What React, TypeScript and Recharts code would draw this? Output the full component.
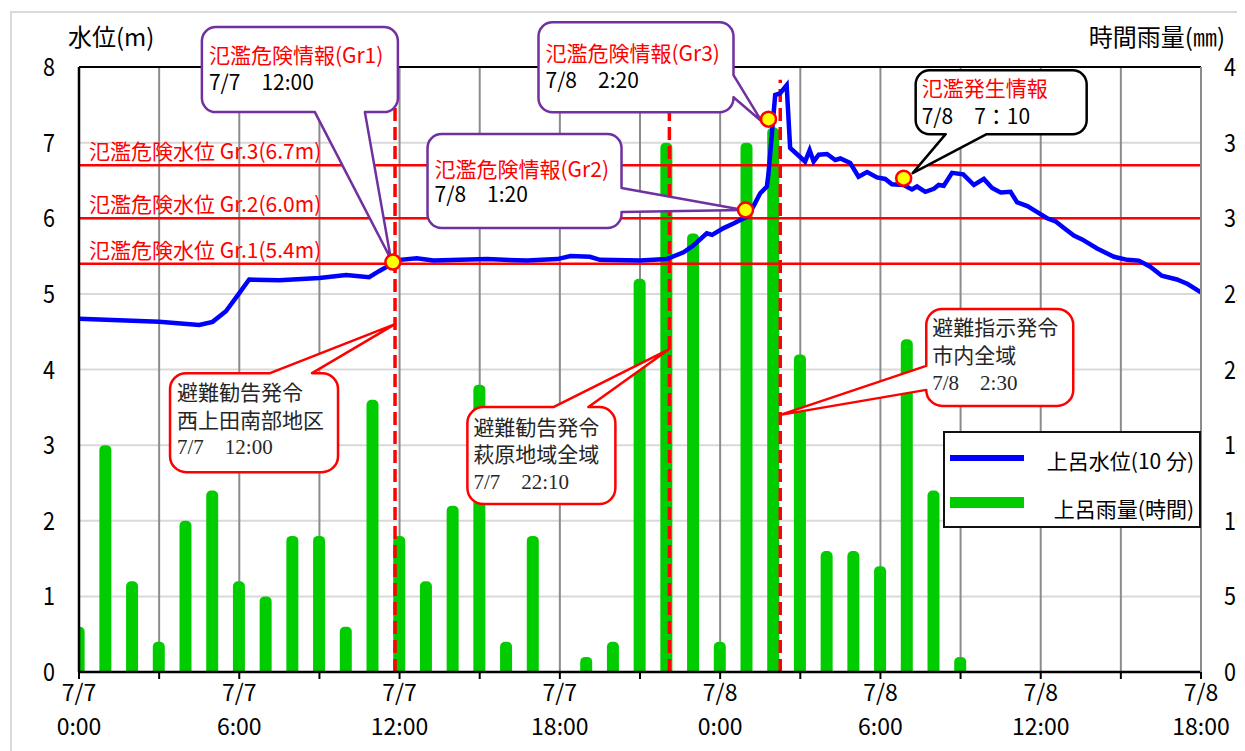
import React from 'react';
import {
  ComposedChart, Bar, Line, XAxis, YAxis, CartesianGrid, ReferenceLine, ReferenceDot, Legend,
} from 'recharts';

// ---- data ----
const rainMm = [3, 15, 6, 2, 10, 12, 6, 5, 9, 9, 3, 18, 9, 6, 11, 19, 2, 9, 0, 1, 2, 26, 35, 29, 2, 35, 36, 21, 8, 8, 7, 22, 12, 1];

const levelT = [0, 1.5, 3, 4.5, 5, 5.5, 6, 6.37, 7.5, 9, 10, 10.86, 11.23, 11.73, 12.02, 12.64, 13.27, 15.27, 16.77, 17.9, 18.4, 19.13, 19.5, 21, 22, 22.63, 23, 23.5, 23.7, 24.13, 24.5, 25, 25.25, 25.5, 25.75, 25.81, 26.06, 26.24, 26.49, 26.62, 27.18, 27.35, 27.5, 27.69, 28, 28.31, 28.5, 28.87, 29.18, 29.5, 29.87, 30.18, 30.43, 30.87, 31.18, 31.37, 31.68, 32, 32.18, 32.37, 32.68, 33.1, 33.5, 33.87, 34.18, 34.5, 34.87, 35.12, 35.5, 35.87, 36.24, 36.55, 36.87, 37.24, 37.55, 38.11, 38.74, 39.24, 39.67, 40.1, 40.53, 41.1, 41.5, 42];
const levelM = [4.67, 4.65, 4.63, 4.59, 4.63, 4.77, 5.01, 5.19, 5.18, 5.21, 5.25, 5.22, 5.30, 5.40, 5.45, 5.47, 5.44, 5.46, 5.44, 5.46, 5.50, 5.49, 5.45, 5.44, 5.46, 5.55, 5.64, 5.80, 5.78, 5.87, 5.93, 6.02, 6.16, 6.33, 6.42, 6.59, 7.63, 7.65, 7.76, 6.93, 6.75, 6.90, 6.75, 6.84, 6.85, 6.77, 6.79, 6.73, 6.55, 6.61, 6.54, 6.52, 6.45, 6.44, 6.38, 6.42, 6.35, 6.39, 6.44, 6.43, 6.60, 6.58, 6.44, 6.52, 6.40, 6.34, 6.35, 6.21, 6.16, 6.08, 6.00, 5.96, 5.87, 5.77, 5.72, 5.60, 5.49, 5.45, 5.44, 5.36, 5.24, 5.19, 5.13, 5.02];

const xTicks = [0, 3, 6, 9, 12, 15, 18, 21, 24, 27, 30, 33, 36, 39, 42];
const xLabelHours = [0, 6, 12, 18, 24, 30, 36, 42];
const xTickDates = ['7/7', '7/7', '7/7', '7/7', '7/8', '7/8', '7/8', '7/8'];
const xTickTimes = ['0:00', '6:00', '12:00', '18:00', '0:00', '6:00', '12:00', '18:00'];
const levelTicks = [0, 1, 2, 3, 4, 5, 6, 7, 8];
const rainTicks = [0, 5, 10, 15, 20, 25, 30, 35, 40];

const warnLevels = [6.7, 6.0, 5.4];
const warnLabels = ['氾濫危険水位 Gr.3(6.7m)', '氾濫危険水位 Gr.2(6.0m)', '氾濫危険水位 Gr.1(5.4m)'];

const notifyT = [11.75, 24.95, 25.81, 30.87];
const notifyM = [5.42, 6.11, 7.31, 6.53];
const notifyTitles = ['氾濫危険情報(Gr1)', '氾濫危険情報(Gr2)', '氾濫危険情報(Gr3)', '氾濫発生情報'];
const notifyTimes = ['7/7　12:00', '7/8　1:20', '7/8　2:20', '7/8　7：10'];

const evacT = [11.83, 22.1, 26.25];
const evacTop = [7.5, 7.43, 7.83];
const evacTipM = [4.6, 4.27, 3.4];
const evacLines = [
  ['避難勧告発令', '西上田南部地区', '7/7　12:00'],
  ['避難勧告発令', '萩原地域全域', '7/7　22:10'],
  ['避難指示発令', '市内全域', '7/8　2:30'],
];

const seriesNames = { level: '上呂水位(10 分)', rain: '上呂雨量(時間)' };

// ---- tables built from the data ----
const rainData = rainMm.map((r, i) => ({ t: i, rain: r }));
const levelData = levelT.map((t, i) => ({ t, level: levelM[i] }));

// ---- layout / style (pixel offsets relative to anchor points) ----
const FONT = "'Noto Sans CJK JP', 'Noto Sans', sans-serif";
const notifyBoxes = [
  { l: -191, r: 5, t: -235, b: -150, side: 'bottom', b0: -78, b1: -28, tx: -2, ty: -3, tl: -184, base: [-199, -172], stroke: '#7030A0' },
  { l: -318, r: -124, t: -76, b: 18, side: 'right', b0: -22, b1: 2, tx: -2, ty: 0, tl: -311, base: [-33, -8], stroke: '#7030A0' },
  { l: -230, r: -35, t: -97, b: -7, side: 'right', b0: -44, b1: -22, tx: -7, ty: 2, tl: -223, base: [-58, -31], stroke: '#7030A0' },
  { l: 12, r: 183, t: -108, b: -44, side: 'bottom', b0: 42, b1: 83, tx: 9, ty: -5, tl: 18, base: [-82, -54], stroke: '#000000' },
];
const evacBoxes = [
  { l: -225, r: -57, t: 49, b: 148, side: 'top', b0: -125, b1: -83, tx: 0, ty: 0, tl: -218, base: [76, 104, 130] },
  { l: -202, r: -54, t: 58, b: 155, side: 'top', b0: -116, b1: -81, tx: 0, ty: 0, tl: -196, base: [86, 113, 140] },
  { l: 146, r: 293, t: -106, b: -9, side: 'left', b0: -49, b1: -25, tx: 0, ty: 0, tl: 152, base: [-80, -52, -25] },
];

function calloutPath(x0: number, y0: number, x1: number, y1: number, r: number, side: string, b0: number, b1: number, tx: number, ty: number) {
  let d = `M${x0 + r},${y0}`;
  if (side === 'top') d += ` L${b0},${y0} L${tx},${ty} L${b1},${y0}`;
  d += ` L${x1 - r},${y0} A${r},${r} 0 0 1 ${x1},${y0 + r}`;
  if (side === 'right') d += ` L${x1},${b0} L${tx},${ty} L${x1},${b1}`;
  d += ` L${x1},${y1 - r} A${r},${r} 0 0 1 ${x1 - r},${y1}`;
  if (side === 'bottom') d += ` L${b1},${y1} L${tx},${ty} L${b0},${y1}`;
  d += ` L${x0 + r},${y1} A${r},${r} 0 0 1 ${x0},${y1 - r}`;
  if (side === 'left') d += ` L${x0},${b1} L${tx},${ty} L${x0},${b0}`;
  d += ` L${x0},${y0 + r} A${r},${r} 0 0 1 ${x0 + r},${y0} Z`;
  return d;
}

function boxPath(cx: number, cy: number, g: any, r: number) {
  const horiz = g.side === 'top' || g.side === 'bottom';
  return calloutPath(
    cx + g.l, cy + g.t, cx + g.r, cy + g.b, r, g.side,
    (horiz ? cx : cy) + g.b0, (horiz ? cx : cy) + g.b1, cx + g.tx, cy + g.ty,
  );
}

const NotifyShape = (i: number) => (props: any) => {
  const { cx, cy } = props;
  const g = notifyBoxes[i];
  return (
    <g>
      <path d={boxPath(cx, cy, g, 14)} fill="#fff" stroke={g.stroke} strokeWidth={2.5} strokeLinejoin="round" />
      <text x={cx + g.tl} y={cy + g.base[0]} fontSize={21} fill="#FF0000" fontFamily={FONT}>{notifyTitles[i]}</text>
      <text x={cx + g.tl} y={cy + g.base[1]} fontSize={21} fill="#000" fontFamily={FONT}>{notifyTimes[i]}</text>
      <circle cx={cx} cy={cy} r={7.5} fill="#FFFF00" stroke="#FF0000" strokeWidth={2.5} />
    </g>
  );
};

const EvacShape = (i: number) => (props: any) => {
  const { cx, cy } = props;
  const g = evacBoxes[i];
  return (
    <g>
      <path d={boxPath(cx, cy, g, 16)} fill="#fff" stroke="#FF0000" strokeWidth={2.5} strokeLinejoin="round" />
      {evacLines[i].map((s, k) => (
        <text key={k} x={cx + g.tl} y={cy + g.base[k]} fontSize={21} fill="#262626"
          fontFamily={"'Liberation Serif', 'Noto Sans CJK JP', serif"}>{s}</text>
      ))}
    </g>
  );
};

const XTick = (props: any) => {
  const { x, y, payload } = props;
  const i = xLabelHours.indexOf(payload.value);
  if (i < 0) return <g />;
  return (
    <g>
      <text x={x} y={y} dy={20} textAnchor="middle" fontSize={23} fill="#000" fontFamily={FONT}>{xTickDates[i]}</text>
      <text x={x} y={y} dy={54} textAnchor="middle" fontSize={23} fill="#000" fontFamily={FONT}>{xTickTimes[i]}</text>
    </g>
  );
};

const LeftTick = (props: any) => {
  const { x, y, payload } = props;
  return (
    <text x={x} y={y} dy={9} textAnchor="end" fontSize={25} fill="#000" fontFamily={FONT}
      textLength={12} lengthAdjust="spacingAndGlyphs">{String(payload.value)}</text>
  );
};

const RightTick = (props: any) => {
  const { x, y, payload } = props;
  const s = String(payload.value);
  return (
    <text x={x} y={y} dy={9} textAnchor="start" fontSize={25} fill="#000" fontFamily={FONT}
      textLength={12 * s.length} lengthAdjust="spacingAndGlyphs">{s}</text>
  );
};

const WarnLabel = (text: string) => (props: any) => {
  const vb = props.viewBox || {};
  return (
    <text x={(vb.x || 0) + 10} y={(vb.y || 0) - 6} fontSize={21} fill="#FF0000" fontFamily={FONT}>{text}</text>
  );
};

const LegendBox = (props: any) => {
  const payload = [...(props.payload || [])].sort((a: any, b: any) => (a.type === 'line' ? -1 : 1) - (b.type === 'line' ? -1 : 1));
  return (
    <div style={{ position: 'relative', width: 258, height: 97, boxSizing: 'border-box', border: '2px solid #111', background: '#fff', fontFamily: FONT }}>
      {payload.map((e: any, k: number) => (
        <React.Fragment key={k}>
          <div style={{ position: 'absolute', left: 5, top: k === 0 ? 22 : 64, width: 74, height: k === 0 ? 6 : 11, background: e.color }} />
          <div style={{ position: 'absolute', right: 5, top: k === 0 ? 12 : 60, fontSize: 21, lineHeight: '30px', color: '#000', whiteSpace: 'nowrap' }}>{e.value}</div>
        </React.Fragment>
      ))}
    </div>
  );
};

export default function App() {
  return (
    <div style={{ position: 'relative', width: 1237, height: 743, overflow: 'hidden', fontFamily: FONT, background: '#fff' }}>
      <div style={{ position: 'absolute', left: 2, top: 3, width: 1300, height: 800, border: '2px solid #d9d9d9', pointerEvents: 'none' }} />
      <ComposedChart width={1237} height={743} data={rainData} margin={{ top: 59, right: 0, bottom: 0, left: 0 }} style={{ fontFamily: FONT }}>
        <CartesianGrid yAxisId="left" vertical={false} stroke="#d9d9d9" strokeWidth={2} />
        <CartesianGrid yAxisId="left" horizontal={false} stroke="#8c8c8c" strokeWidth={2} />
        <XAxis
          dataKey="t" type="number" domain={[0, 42]} ticks={xTicks} interval={0} allowDataOverflow
          height={79} tickSize={7} tickMargin={2} tick={<XTick />}
          axisLine={{ stroke: '#000', strokeWidth: 2.5 }} tickLine={{ stroke: '#000', strokeWidth: 2 }}
        />
        <XAxis xAxisId="bars" dataKey="t" type="number" domain={[0, 42]} allowDataOverflow hide />
        <YAxis
          yAxisId="left" domain={[0, 8]} ticks={levelTicks} interval={0} width={71}
          tickSize={0} tickMargin={24} tickLine={false} tick={<LeftTick />}
          axisLine={{ stroke: '#000', strokeWidth: 2.5 }}
          label={{
            content: (p: any) => (
              <text x={(p.viewBox?.x ?? 0) + 60} y={(p.viewBox?.y ?? 59) - 21} fontSize={24} fill="#000" fontFamily={FONT}>水位(m)</text>
            ),
          }}
        />
        <YAxis
          yAxisId="right" orientation="right" domain={[0, 40]} ticks={rainTicks} interval={0} width={44}
          tickSize={0} tickMargin={23} tickLine={false} tick={<RightTick />}
          axisLine={{ stroke: '#8c8c8c', strokeWidth: 2 }}
          label={{
            content: (p: any) => (
              <text x={(p.viewBox?.x ?? 1193) + 24} y={(p.viewBox?.y ?? 59) - 21} textAnchor="end" fontSize={24} fill="#000" fontFamily={FONT}>時間雨量(㎜)</text>
            ),
          }}
        />
        <ReferenceLine yAxisId="left" y={8} stroke="#000" strokeWidth={2} />
        <Bar xAxisId="bars" yAxisId="right" dataKey="rain" name={seriesNames.rain} fill="#00CC00" barSize={12} radius={[5, 5, 0, 0]} isAnimationActive={false} />
        {warnLevels.map((v, i) => (
          <ReferenceLine key={`w${i}`} yAxisId="left" y={v} stroke="#FF0000" strokeWidth={2.5} label={WarnLabel(warnLabels[i])} />
        ))}
        {evacT.map((t, i) => (
          <ReferenceLine key={`d${i}`} yAxisId="left" segment={[{ x: t, y: 0 }, { x: t, y: evacTop[i] }]}
            stroke="#FF0000" strokeWidth={3.5} strokeDasharray="13 6" />
        ))}
        <Line yAxisId="left" data={levelData} dataKey="level" name={seriesNames.level} type="linear"
          stroke="#0000FF" strokeWidth={4.5} dot={false} isAnimationActive={false} />
        {evacT.map((t, i) => (
          <ReferenceDot key={`e${i}`} yAxisId="left" x={t} y={evacTipM[i]} r={1} shape={EvacShape(i)} />
        ))}
        {notifyT.map((t, i) => (
          <ReferenceDot key={`n${i}`} yAxisId="left" x={t} y={notifyM[i]} r={7.5} shape={NotifyShape(i)} />
        ))}
        <Legend layout="vertical" align="center" verticalAlign="middle" content={<LegendBox />}
          wrapperStyle={{ left: 935, top: 423, width: 258, height: 97 }} />
      </ComposedChart>
    </div>
  );
}
